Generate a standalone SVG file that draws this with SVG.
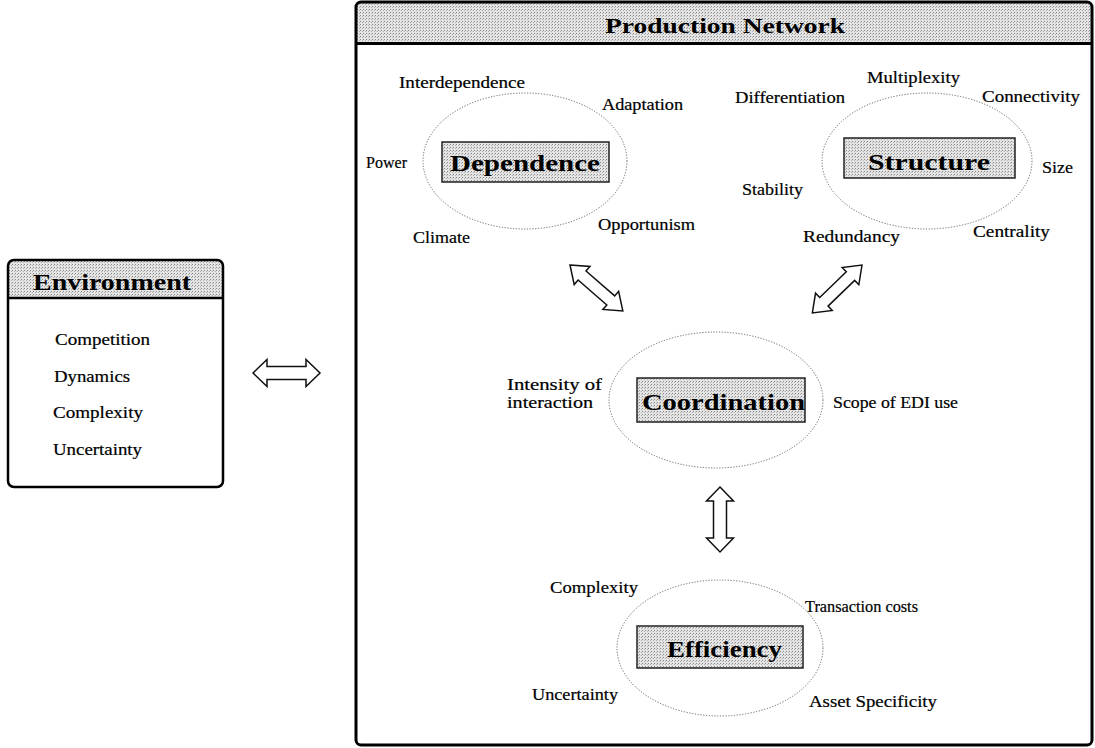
<svg xmlns="http://www.w3.org/2000/svg" width="1095" height="748" viewBox="0 0 1095 748">
<defs>
<pattern id="dots" width="3" height="3" patternUnits="userSpaceOnUse">
<rect width="3" height="3" fill="#e4e4e4"/>
<rect x="0" y="0" width="1" height="1" fill="#8a8a8a"/>
<rect x="2" y="1" width="1" height="1" fill="#b0b0b0"/>
</pattern>
<style>
.lbl{font-family:"Liberation Serif","Times New Roman",serif;font-size:16px;fill:#000;stroke:#000;stroke-width:0.2}
.ttl{font-family:"Liberation Serif","Times New Roman",serif;font-weight:bold;fill:#000}
.ell{fill:none;stroke:#666;stroke-width:1;stroke-dasharray:1.2 1.6}
.nbox{fill:url(#dots);stroke:#222;stroke-width:1.5}
.hdr{fill:url(#dots)}
.frame{fill:none;stroke:#000;stroke-width:3}
.arr{fill:#fff;stroke:#111;stroke-width:1.5;stroke-linejoin:miter}
</style>
</defs>
<rect width="1095" height="748" fill="#fff"/>

<g id="production-network">
<path class="hdr" d="M356,3 H1092 V43 H356 Z"/>
<rect class="frame" x="356" y="2" width="736" height="743" rx="5"/>
<line x1="356" y1="43.5" x2="1092" y2="43.5" stroke="#000" stroke-width="3"/>
<text class="ttl" x="725" y="33" font-size="22" text-anchor="middle" textLength="240" lengthAdjust="spacingAndGlyphs">Production Network</text>
</g>

<g id="environment">
<path class="hdr" d="M9,261 H222 V298 H9 Z"/>
<rect x="8" y="260" width="215" height="227" rx="6" fill="none" stroke="#000" stroke-width="2.5"/>
<line x1="8" y1="298" x2="223" y2="298" stroke="#000" stroke-width="2.5"/>
<text class="ttl" x="112" y="290" font-size="24" text-anchor="middle" textLength="158" lengthAdjust="spacingAndGlyphs">Environment</text>
<text class="lbl" x="55" y="345" textLength="95" lengthAdjust="spacingAndGlyphs">Competition</text>
<text class="lbl" x="54" y="382" textLength="76" lengthAdjust="spacingAndGlyphs">Dynamics</text>
<text class="lbl" x="53" y="418" textLength="90" lengthAdjust="spacingAndGlyphs">Complexity</text>
<text class="lbl" x="53" y="455" textLength="89" lengthAdjust="spacingAndGlyphs">Uncertainty</text>
</g>

<g id="dependence">
<ellipse class="ell" cx="525" cy="161" rx="102" ry="68"/>
<rect class="nbox" x="442" y="142" width="167" height="40"/>
<text class="ttl" x="525" y="171" font-size="24" text-anchor="middle" textLength="150" lengthAdjust="spacingAndGlyphs">Dependence</text>
<text class="lbl" x="399" y="88" textLength="126" lengthAdjust="spacingAndGlyphs">Interdependence</text>
<text class="lbl" x="602" y="110" textLength="81" lengthAdjust="spacingAndGlyphs">Adaptation</text>
<text class="lbl" x="407" y="168" text-anchor="end">Power</text>
<text class="lbl" x="413" y="243" textLength="57" lengthAdjust="spacingAndGlyphs">Climate</text>
<text class="lbl" x="598" y="230" textLength="97" lengthAdjust="spacingAndGlyphs">Opportunism</text>
</g>

<g id="structure">
<ellipse class="ell" cx="927" cy="161" rx="105" ry="68"/>
<rect class="nbox" x="844" y="138" width="171" height="40"/>
<text class="ttl" x="929" y="170" font-size="24" text-anchor="middle" textLength="122" lengthAdjust="spacingAndGlyphs">Structure</text>
<text class="lbl" x="867" y="83" textLength="93" lengthAdjust="spacingAndGlyphs">Multiplexity</text>
<text class="lbl" x="735" y="103" textLength="110" lengthAdjust="spacingAndGlyphs">Differentiation</text>
<text class="lbl" x="982" y="102" textLength="98" lengthAdjust="spacingAndGlyphs">Connectivity</text>
<text class="lbl" x="1042" y="173" textLength="31" lengthAdjust="spacingAndGlyphs">Size</text>
<text class="lbl" x="742" y="195" textLength="61" lengthAdjust="spacingAndGlyphs">Stability</text>
<text class="lbl" x="803" y="242" textLength="97" lengthAdjust="spacingAndGlyphs">Redundancy</text>
<text class="lbl" x="973" y="237" textLength="77" lengthAdjust="spacingAndGlyphs">Centrality</text>
</g>

<g id="coordination">
<ellipse class="ell" cx="716" cy="400" rx="107" ry="68"/>
<rect class="nbox" x="637" y="378" width="168" height="44"/>
<text class="ttl" x="642" y="410" font-size="24" textLength="163" lengthAdjust="spacingAndGlyphs">Coordination</text>
<text class="lbl" x="507" y="390" textLength="95" lengthAdjust="spacingAndGlyphs">Intensity of</text>
<text class="lbl" x="507" y="408" textLength="86" lengthAdjust="spacingAndGlyphs">interaction</text>
<text class="lbl" x="833" y="408" textLength="125" lengthAdjust="spacingAndGlyphs">Scope of EDI use</text>
</g>

<g id="efficiency">
<ellipse class="ell" cx="720" cy="648" rx="103" ry="68"/>
<rect class="nbox" x="637" y="626" width="166" height="42"/>
<text class="ttl" x="724.5" y="657" font-size="24" text-anchor="middle" textLength="115" lengthAdjust="spacingAndGlyphs">Efficiency</text>
<text class="lbl" x="550" y="593" textLength="88" lengthAdjust="spacingAndGlyphs">Complexity</text>
<text class="lbl" x="805" y="612" textLength="113" lengthAdjust="spacingAndGlyphs">Transaction costs</text>
<text class="lbl" x="532" y="700" textLength="86" lengthAdjust="spacingAndGlyphs">Uncertainty</text>
<text class="lbl" x="809" y="707" textLength="128" lengthAdjust="spacingAndGlyphs">Asset Specificity</text>
</g>

<g id="connectors">
<path class="arr" transform="translate(253,373)" d="M0,0 L14,-13.5 L14,-6.5 L53,-6.5 L53,-13.5 L67,0 L53,13.5 L53,6.5 L14,6.5 L14,13.5 Z"/>
<path class="arr" transform="translate(720,487) rotate(90)" d="M0,0 L14,-13.5 L14,-6.5 L51,-6.5 L51,-13.5 L65,0 L51,13.5 L51,6.5 L14,6.5 L14,13.5 Z"/>
<path class="arr" transform="translate(570,265) rotate(41)" d="M0,0 L16,-12 L16,-6 L54,-6 L54,-12 L70,0 L54,12 L54,6 L16,6 L16,12 Z"/>
<path class="arr" transform="translate(862,265) rotate(136)" d="M0,0 L16,-12 L16,-6 L53,-6 L53,-12 L69,0 L53,12 L53,6 L16,6 L16,12 Z"/>
</g>
</svg>
